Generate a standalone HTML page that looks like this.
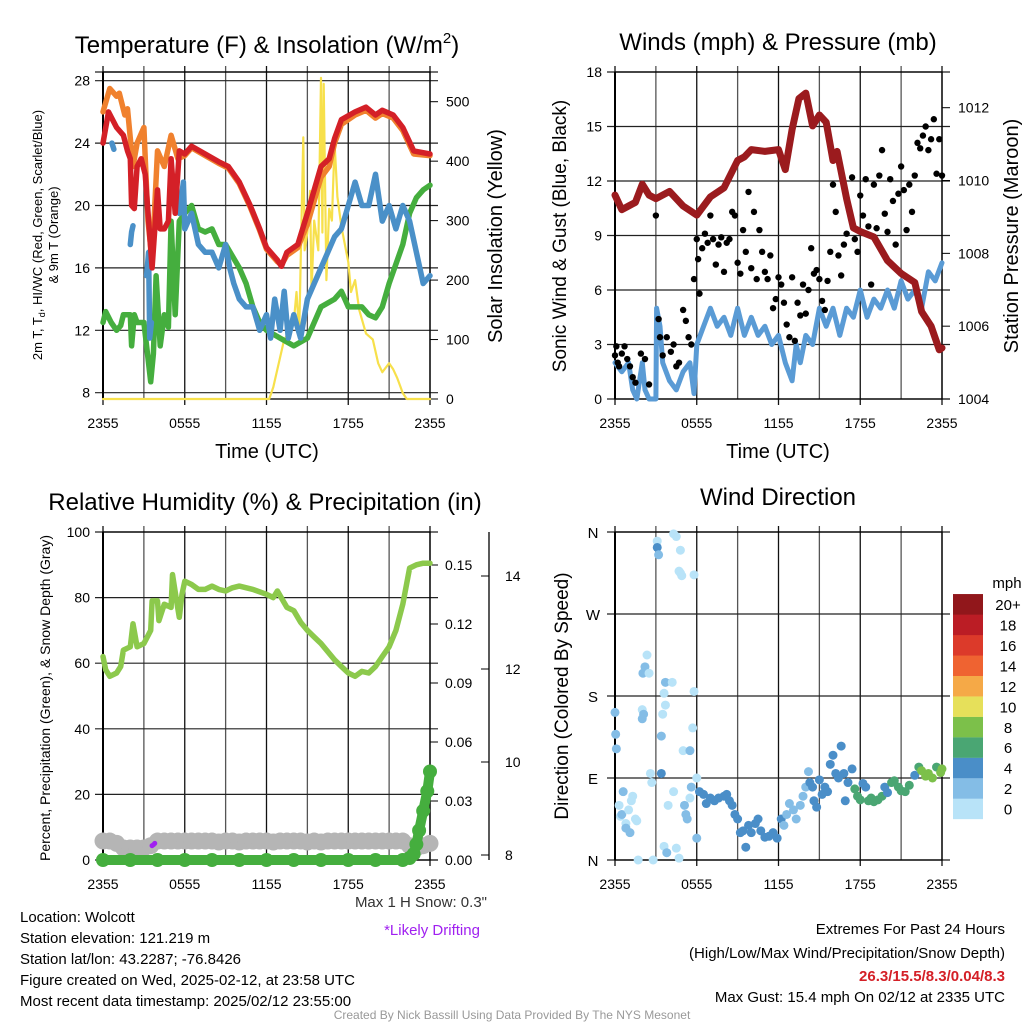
<!DOCTYPE html>
<html><head><meta charset="utf-8">
<style>
html,body{margin:0;padding:0;background:#fff;}
body{width:1024px;height:1024px;overflow:hidden;font-family:"Liberation Sans",sans-serif;}
svg text{font-family:"Liberation Sans",sans-serif;}
</style></head>
<body>
<svg id="chart" width="1024" height="1024" viewBox="0 0 1024 1024" xmlns="http://www.w3.org/2000/svg">
<g id="static">
<text x="267" y="53" font-size="24" text-anchor="middle">Temperature (F) &amp; Insolation (W/m<tspan font-size="15" dy="-10">2</tspan><tspan dy="10">)</tspan></text>
<text x="778" y="50" font-size="24" text-anchor="middle">Winds (mph) &amp; Pressure (mb)</text>
<text x="265" y="510" font-size="24" text-anchor="middle">Relative Humidity (%) &amp; Precipitation (in)</text>
<text x="778" y="505" font-size="24" text-anchor="middle">Wind Direction</text>
<text transform="translate(42,235) rotate(-90)" font-size="13" text-anchor="middle">2m T, T<tspan font-size="9" dy="3">d</tspan><tspan dy="-3">, HI/WC (Red, Green, Scarlet/Blue)</tspan></text>
<text transform="translate(58,235) rotate(-90)" font-size="13" text-anchor="middle">&amp; 9m T (Orange)</text>
<text transform="translate(502,236) rotate(-90)" font-size="20" text-anchor="middle">Solar Insolation (Yellow)</text>
<text transform="translate(566,236) rotate(-90)" font-size="19" text-anchor="middle">Sonic Wind &amp; Gust (Blue, Black)</text>
<text transform="translate(1018,236) rotate(-90)" font-size="20" text-anchor="middle">Station Pressure (Maroon)</text>
<text transform="translate(50,698) rotate(-90)" font-size="14" text-anchor="middle">Percent, Precipitation (Green), &amp; Snow Depth (Gray)</text>
<text transform="translate(568,696) rotate(-90)" font-size="19" text-anchor="middle">Direction (Colored By Speed)</text>
<text x="267" y="458" font-size="20" text-anchor="middle">Time (UTC)</text>
<text x="778" y="458" font-size="20" text-anchor="middle">Time (UTC)</text>
<text x="487" y="907" font-size="15" text-anchor="end" fill="#333">Max 1 H Snow: 0.3"</text>
<text x="432" y="935" font-size="15" text-anchor="middle" fill="#a020f0">*Likely Drifting</text>
<text x="20" y="922" font-size="15">Location: Wolcott</text>
<text x="20" y="943" font-size="15">Station elevation: 121.219 m</text>
<text x="20" y="964" font-size="15">Station lat/lon: 43.2287; -76.8426</text>
<text x="20" y="985" font-size="15">Figure created on Wed, 2025-02-12, at 23:58 UTC</text>
<text x="20" y="1006" font-size="15">Most recent data timestamp: 2025/02/12 23:55:00</text>
<text x="1005" y="934" font-size="15" text-anchor="end">Extremes For Past 24 Hours</text>
<text x="1005" y="958" font-size="15" text-anchor="end">(High/Low/Max Wind/Precipitation/Snow Depth)</text>
<text x="1005" y="981" font-size="15" font-weight="bold" text-anchor="end" fill="#d42027">26.3/15.5/8.3/0.04/8.3</text>
<text x="1005" y="1002" font-size="15" text-anchor="end">Max Gust: 15.4 mph On 02/12 at 2335 UTC</text>
<text x="512" y="1019" font-size="12" text-anchor="middle" fill="#999">Created By Nick Bassill Using Data Provided By The NYS Mesonet</text>
</g>
</svg>
<script>
// ===== DATA =====
const xTickLabels = ["2355","0555","1155","1755","2355"];
// Panel 1 temperatures (hours since 2355, deg F)
const redT = [0,0.4,1,1.5,1.8,2.0,2.1,2.3,2.5,2.8,3.1,3.6,4.0,4.2,4.5,4.8,5.0,5.3,5.6,6.0,6.5,7.5,8.5,9.2,10,10.8,11.5,12,12.8,13.1,13.5,14.3,15,15.5,16,16.6,17,17.5,18.5,19.3,20,20.5,21.3,22,22.8,24];
const redV = [24,26,25,24.5,23.5,23,20,19.8,22.5,23,22,16,21,18.5,18.5,19,23,19.5,23.5,23.3,23.8,23.3,22.8,22.5,21.5,20,18.5,17.3,16.5,16.1,17,17.5,19.5,21,22.5,23,24.3,25.5,26,26.3,25.8,26.1,25.8,25,23.5,23.3];
const orangeT = [0,0.5,1,1.2,1.6,1.8,2.2,2.5,3,3.3,3.6,4.0,4.5,5.0,5.5,6.0,6.5,7.5,8.5,9.2,10,10.8,11.5,12,12.8,13.1,13.5,14.3,15,15.5,16,16.6,17,17.5,18.5,19.3,20,20.5,21.3,22,22.8,24];
const orangeV = [26,27.5,27,27.2,25.8,26.2,22.5,24,25,19,16.5,23.5,22.5,24.5,23,23.2,23.7,23.2,22.7,22.4,21.4,19.9,18.4,17.2,16.4,16.2,16.8,17.3,18.8,20.3,21.8,22.5,24.0,25.2,25.8,26.1,25.6,25.9,25.6,24.8,23.3,23.2];
const blueSegT = [[0.65,0.8],[2.0,2.1,2.2],[3.2,3.35,3.43,3.55],[5.1,5.3,5.45,5.6,5.9,6,6.5,7,7.5,8,8.5,9,9.3,9.6,10,10.5,11,11.5,12,12.3,12.6,13,13.3,13.6,14,14.5,15,15.5,16,16.5,17,17.5,18,18.5,19,19.5,20,20.5,21,21.5,22,22.5,23,23.5,24]];
const blueSegV = [[24,23.6],[17.5,18.3,18.7],[15.5,17,11.5,12.5],[21,21.4,20.6,19.5,21.5,18.5,19.5,17.5,17,17,16,17.5,16,15,14,13.5,13.5,12,13,11.5,14,12,14.5,11.5,13,11.5,14,15,16,17,18,18.5,20,21.5,20,20,22,19,20,18.5,20,19,17,15,15.5]];
const greenT = [0,0.2,0.6,1,1.3,1.5,2,2.1,2.3,2.5,3,3.2,3.5,3.7,3.9,4.2,4.5,4.8,5.0,5.3,5.6,6,6.5,7,7.5,8,8.5,9,10,10.5,11,11.5,12,13,14,15,16,17,17.5,18,19,19.5,20,20.5,21,22,22.5,23,23.5,24];
const greenV = [12.5,13.2,12.5,12,12.3,13,13,11,13,12.5,12.5,11,8.7,10.5,15.5,11,13,12.2,19,13,19,19.5,20,18.5,18.3,18.5,17.5,17.5,16,15,13.5,12.5,12,11.5,11,11.5,13.5,14,14.5,13.5,13.5,13,12.8,13.5,15,17.5,19.5,20.5,21,21.3];
const solarT = [0,12.2,12.5,13,13.3,13.6,14,14.2,14.4,14.6,14.7,14.8,15,15.2,15.3,15.5,15.8,16,16.1,16.2,16.4,16.6,16.8,17,17.2,17.5,18,18.2,18.5,18.8,19.3,19.8,20.2,20.5,21,21.3,21.6,22,22.3,24];
const solarV = [0,0,20,70,100,110,130,180,110,330,440,250,280,350,180,300,250,540,280,530,200,320,300,430,340,290,230,180,200,150,110,100,60,45,60,50,35,10,0,0];
// Panel 2 wind (mph), gust (mph), pressure (mb)
const windT = [0,0.5,1,1.3,1.6,2,2.2,2.5,3,3.05,3.3,3.5,4,4.5,5,5.5,5.8,6,6.5,7,7.5,8,8.5,9,9.5,10,10.5,11,11.5,12,12.5,13,13.3,13.6,14,14.5,15,15.5,16,16.5,17,17.5,18,18.5,19,19.5,20,20.5,21,21.5,22,22.5,23,23.5,24];
const windV = [2,1.5,2,0.5,0,2,0.5,0,0,5,4,2,1,0.5,1.5,2,0.3,3,4,5,4,4.5,3.5,5,3.5,4.5,3.5,4,3,3.5,2,1,3,2,3.5,3,5,4,5,3.5,5,4.5,6,4.5,5.5,5,6,5,6.5,5.5,6,5,7,6.5,7.5];
const gustT = [0,0.1,0.2,0.3,0.5,0.7,0.9,1.1,1.3,1.5,1.9,2.2,2.5,3.0,3.2,3.3,3.5,3.8,4.1,4.3,4.5,4.7,5.0,5.2,5.4,5.6,5.8,6.0,6.1,6.2,6.4,6.6,6.8,7.0,7.2,7.4,7.6,7.8,8.0,8.2,8.4,8.6,8.8,9.0,9.2,9.4,9.6,9.8,10.0,10.2,10.4,10.6,10.8,11.0,11.2,11.4,11.6,11.8,12.0,12.2,12.4,12.6,12.8,13.0,13.2,13.4,13.6,13.8,14.0,14.2,14.4,14.6,14.8,15.0,15.2,15.4,15.6,15.8,16.0,16.2,16.4,16.6,16.8,17.0,17.2,17.4,17.6,17.8,18.0,18.2,18.4,18.6,18.8,19.0,19.2,19.4,19.6,19.8,20.0,20.2,20.4,20.6,20.8,21.0,21.2,21.4,21.6,21.8,22.0,22.2,22.4,22.6,22.8,23.0,23.2,23.4,23.6,23.8,24];
const gustV = [2.4,2.9,2.0,1.8,2.5,2.9,2.2,1.8,1.2,0.9,2.5,2.2,0.8,10.1,4.4,3.4,2.4,3.4,2.6,3.0,1.8,2.0,4.9,4.3,3.4,3.0,6.6,8.8,7.7,5.8,8.3,9.1,8.6,10.1,8.8,7.4,8.5,8.9,7.0,8.6,8.8,10.3,10.1,7.5,6.9,9.3,8.1,11.4,7.2,10.3,6.6,9.3,8.1,7.0,6.6,7.9,5.0,5.5,6.7,6.3,5.3,4.1,3.4,6.7,3.2,5.3,4.6,6.3,4.7,6.0,8.3,6.9,7.1,6.6,5.4,4.9,6.5,8.1,11.8,10.3,7.9,6.8,8.5,9.1,10.4,12.2,8.8,8.1,11.2,10.1,12.1,9.5,6.3,11.8,9.4,12.3,13.7,10.2,9.2,12.1,10.9,8.5,11.3,12.8,11.5,9.3,11.8,10.3,12.3,14.1,13.8,14.5,15.0,13.7,14.3,15.4,12.4,14.3,12.3];
const presT = [0,0.5,1,1.5,2,2.5,3,4,5,6,7,8,9,9.5,10,11,12,12.5,13,13.5,14,14.5,15,15.5,16,16.3,17,17.5,18,19,20,21,22,22.5,23.2,23.8,24];
const presV = [1009.6,1009.2,1009.3,1009.4,1009.9,1009.6,1009.5,1009.7,1009.3,1009.05,1009.55,1009.8,1010.55,1010.65,1010.85,1010.8,1010.85,1010.3,1011.4,1012.25,1012.4,1011.5,1011.8,1011.6,1010.55,1010.8,1009.5,1008.7,1008.6,1008.45,1007.8,1007.45,1007.2,1006.4,1006.0,1005.35,1005.4];
// Panel 3 RH (%), precip (in), snow depth (in)
const rhT = [0,0.2,0.5,1,1.3,1.5,2,2.2,2.5,3,3.5,3.6,4,4.1,4.5,5,5.1,5.4,5.6,5.8,6,6.5,7,7.5,8,8.5,9,9.5,10,11,12,12.5,12.8,13.5,14,14.5,15,15.5,16,17,17.5,18,18.5,19,19.5,20,20.5,21,21.5,22,22.5,23,23.5,24];
const rhV = [62,58,56,57,59,64,65,72,65,66,70,79,79,73,78,77,87,79,74,81,85,84,82.5,82.5,83.5,82.5,82,83,83.5,82.5,81,80,82,77,76,72.5,70,68,66,61,59,57,56,57.5,57,59,62,65,70,78,89,90,90.5,90.5];
const precipT = [0,2,4,6,8,10,12,14,16,18,20,22,22.5,22.8,23,23.2,23.5,23.8,24];
const precipV = [0,0,0,0,0,0,0,0,0,0,0,0,0.001,0.003,0.008,0.015,0.025,0.035,0.045];
const snowT = [0,0.5,1,1.5,2,2.5,3,3.5,4,4.5,5,5.5,6,6.5,7,7.5,8,8.5,9,9.5,10,10.5,11,11.5,12,12.5,13,13.5,14,14.5,15,15.5,16,16.5,17,17.5,18,18.5,19,19.5,20,20.5,21,21.5,22,22.5,23,23.5,24];
const snowV = [8.3,8.3,8.25,8.15,8.15,8.15,8.15,8.2,8.3,8.3,8.3,8.3,8.3,8.3,8.3,8.3,8.3,8.28,8.3,8.3,8.28,8.3,8.3,8.3,8.3,8.28,8.3,8.3,8.3,8.3,8.28,8.3,8.28,8.3,8.3,8.3,8.3,8.3,8.3,8.3,8.3,8.3,8.3,8.3,8.3,8.2,8.15,8.2,8.25];
const driftT = [3.6,3.7,3.8];
const driftV = [8.2,8.22,8.25];
// Panel 4 wind direction: hours, degrees, speed (mph)
const dirT = [0,0.05,0.1,0.3,0.4,0.5,0.6,0.8,1,1.2,1.3,1.5,1.6,1.1,0.8,2.0,2.0,2.1,2.05,2.2,2.35,2.5,2.6,2.7,2.8,1.7,3.1,3.1,3.2,3.4,3.4,3.5,3.6,3.7,3.7,3.9,3.6,3.8,4.2,4.3,4.5,4.7,4.3,4.5,4.8,4.7,4.8,4.9,5.0,5.1,5.2,5.3,5.5,5.5,5.6,5.7,5.8,5.8,6.0,6.0,6.2,6.5,6.7,7,7.3,7.6,8,8.2,8.4,8.6,8.8,9,9.2,9.4,9.6,9.8,10,10.3,10.5,10.7,11,11.3,11.6,11.9,12.2,12.4,12.6,12.8,13.1,13.3,13.6,13.8,14,14.2,14.3,14.5,14.6,14.8,15,15.2,15.4,15.6,15.8,16,16.2,16.4,16.6,16.8,16.9,17.1,17.4,17.6,17.8,18.0,18.2,18.4,18.6,18.8,19,19.3,19.6,19.8,20.0,20.3,20.5,20.8,21,21.3,21.6,22,22.3,22.5,22.8,23,23.3,23.6,23.9,24];
const dirV = [162,138,122,60,48,50,75,40,55,65,70,45,43,30,35,165,155,160,205,212,225,205,95,85,0,0,350,343,335,136,95,160,183,195,170,60,15,8,195,75,13,2,358,355,340,317,315,312,120,60,50,45,68,120,80,145,185,313,90,24,75,72,62,68,65,68,70,72,65,60,50,45,30,32,14,38,30,40,45,32,25,26,30,24,45,38,50,62,55,45,60,70,80,97,85,80,65,58,88,72,80,75,105,115,95,90,125,95,65,85,100,78,70,66,84,80,65,68,64,66,70,80,74,85,87,80,76,75,82,93,102,98,92,95,90,102,96,100];
const dirS = [3,3,3,1,1,2,2,1,1,1,1,1,1,2,2,1,3,3,3,2,1,1,0,0,0,0,1,4,2,3,4,1,1,3,1,1,1,3,1,1,1,1,0,0,1,0,0,1,1,2,2,3,1,3,3,1,1,1,0,3,4,4,4,4,4,4,4,4,4,4,4,4,4,4,4,4,4,4,4,4,4,4,4,4,4,2,2,2,2,2,2,2,2,2,4,4,4,4,4,4,4,4,4,4,4,4,4,4,4,4,4,6,6,6,4,4,6,6,6,6,6,4,4,6,6,6,6,6,6,4,6,8,8,8,8,6,8,8];
const speedBinLabels = ["0","2","4","6","8","10","12","14","16","18","20+"];
const speedBinColors = ["#b8e3f8","#84bde6","#4a8ec8","#4aa673","#7cc04a","#e6e05a","#f5a947","#ef6331","#dc3a2a","#bb1d25","#91171b"];

// ===== DRAWING =====
const NS = "http://www.w3.org/2000/svg";
const svg = document.getElementById("chart");
function mk(tag, attrs, parent){const e=document.createElementNS(NS,tag);for(const k in attrs)e.setAttribute(k,attrs[k]);(parent||svg).appendChild(e);return e;}
function xs(p,h){return p.x0+(p.x1-p.x0)*h/24;}
function lin(d0,d1,p0,p1){return v=>p0+(v-d0)*(p1-p0)/(d1-d0);}

const P1={x0:103,x1:430,top:72,bot:399};
const P2={x0:615,x1:942,top:72,bot:399};
const P3={x0:103,x1:430,top:532,bot:860};
const P4={x0:615,x1:942,top:532,bot:860};
const yT=lin(8,28,392.7,80.7), ySol=lin(0,500,399,101.7);
const yW=lin(0,18,399,72), yP=lin(1004,1012,399,107.7);
const yRH=lin(0,100,860,532), yPr=lin(0,0.15,860,565), ySn=lin(8,14,855,576);
const yD=lin(0,360,860,532);

function frame(p,hLines,name){
  const g=mk("g",{});
  
  
  for(let i=0;i<=8;i++){const x=xs(p,i*3);mk("line",{x1:x,x2:x,y1:p.top-6,y2:p.bot+(i%2==0?6:0),stroke:i%2?"#555":"#111","stroke-width":1.3},g);}
  hLines.forEach(y=>mk("line",{x1:p.x0-8,x2:p.x1+8,y1:y,y2:y,stroke:"#222","stroke-width":1.2},g));
  mk("rect",{x:p.x0,y:p.top,width:p.x1-p.x0,height:p.bot-p.top,fill:"none",stroke:"#000","stroke-width":1.3},g);
  mk("line",{x1:p.x0,x2:p.x0,y1:p.top,y2:p.bot,stroke:"#000","stroke-width":2},g);
  xTickLabels.forEach((l,i)=>{const t=mk("text",{x:xs(p,i*6),y:p.bot+29,"font-size":14,"text-anchor":"middle"},g);t.textContent=l;
    
    });
  return g;
}
function yLabels(vals,f,x,anchor,g,fmt,size){vals.forEach(v=>{const t=mk("text",{x:x,y:f(v)+5,"font-size":size||14,"text-anchor":anchor},g);t.textContent=fmt?fmt(v):v;
  
  });}
function rTicks(vals,f,x,g,len){vals.forEach(v=>mk("line",{x1:x,x2:x+len,y1:f(v),y2:f(v),stroke:"#000","stroke-width":1},g));}
function pline(p,T,V,fy,color,w,name){
  const pts=T.map((h,i)=>xs(p,h).toFixed(1)+","+fy(V[i]).toFixed(1)).join(" ");
  const e=mk("polyline",{points:pts,fill:"none",stroke:color,"stroke-width":w,"stroke-linejoin":"round","stroke-linecap":"round"});
  
  
  return e;
}
function dots(p,T,V,fy,color,r,name){
  const g=mk("g",{});
  
  
  T.forEach((h,i)=>mk("circle",{cx:xs(p,h),cy:fy(V[i]),r:r,fill:color},g));
  return g;
}

// Panel 1
const temps=[8,12,16,20,24,28];
const g1=frame(P1,temps.map(yT).concat([72]),"temperature");
yLabels(temps,yT,P1.x0-13,"end",g1);
yLabels([0,100,200,300,400,500],ySol,P1.x1+16,"start",g1);
rTicks([0,100,200,300,400,500],ySol,P1.x1,g1,8);
pline(P1,solarT,solarV,ySol,"#f7e04b",2.2,"solar-insolation-line");
pline(P1,greenT,greenV,yT,"#45ae3e",5.5,"dewpoint-line");
blueSegT.forEach((T,i)=>pline(P1,T,blueSegV[i],yT,"#4a90c8",5.5,"windchill-line"));
pline(P1,orangeT,orangeV,yT,"#f0812e",5.5,"temp-9m-line");
pline(P1,redT,redV,yT,"#d42027",5.5,"temp-2m-line");

// Panel 2
const ws=[0,3,6,9,12,15,18];
const g2=frame(P2,ws.map(yW),"wind");
yLabels(ws,yW,P2.x0-13,"end",g2);
yLabels([1004,1006,1008,1010,1012],yP,P2.x1+16,"start",g2);
rTicks([1004,1006,1008,1010,1012],yP,P2.x1,g2,8);
pline(P2,windT,windV,yW,"#5a9bd5",5,"wind-speed-line");
dots(P2,gustT,gustV,yW,"#000",3.2,"wind-gust-dots");
pline(P2,presT,presV,yP,"#9b1b1e",7,"pressure-line");

// Panel 3
const rhs=[0,20,40,60,80,100];
const g3=frame(P3,rhs.map(yRH),"humidity");
yLabels(rhs,yRH,P3.x0-13,"end",g3);
yLabels([0,0.03,0.06,0.09,0.12,0.15],yPr,P3.x1+15,"start",g3,v=>v.toFixed(2));
rTicks([0,0.03,0.06,0.09,0.12,0.15],yPr,P3.x1,g3,8);
mk("line",{x1:489,x2:489,y1:532,y2:860,stroke:"#000","stroke-width":1.3},g3);
rTicks([8,10,12,14],ySn,481,g3,8);
yLabels([8,10,12,14],ySn,505,"start",g3);
dots(P3,snowT,snowV,ySn,"#b5b5b5",8.5,"snow-depth-dots");
pline(P3,rhT,rhV,yRH,"#8cc94c",5.5,"rh-line");
dots(P3,driftT,driftV,ySn,"#a020f0",2.5,"drifting-dots");
dots(P3,precipT,precipV,yPr,"#45ae3e",7,"precip-dots");
pline(P3,precipT,precipV,yPr,"#45ae3e",10,"precip-line");

// Panel 4
const dirs=[0,90,180,270,360], dirLbl=["N","E","S","W","N"];
const g4=frame(P4,dirs.map(yD),"direction");
dirs.forEach((d,i)=>{const t=mk("text",{x:P4.x0-22,y:yD(d)+6,"font-size":15,"text-anchor":"middle"},g4);t.textContent=dirLbl[i];
  
  });
const gd=mk("g",{});


dirT.forEach((h,i)=>{const b=Math.min(10,Math.floor(dirS[i]/2));
  const c=mk("circle",{cx:xs(P4,h),cy:yD(dirV[i]),r:4.5,fill:speedBinColors[b]},gd);});
// legend
const gl=mk("g",{});


const lt=mk("text",{x:1007,y:588,"font-size":15,"text-anchor":"middle"},gl);lt.textContent="mph";
speedBinLabels.forEach((l,i)=>{
  const y0=819-(i+1)*20.45;
  const r=mk("rect",{x:953,y:y0,width:30,height:20.6,fill:speedBinColors[i]},gl);
  
  
  const t=mk("text",{x:1008,y:y0+16,"font-size":15,"text-anchor":"middle"},gl);t.textContent=l;
  
  
});
</script>
</body></html>
